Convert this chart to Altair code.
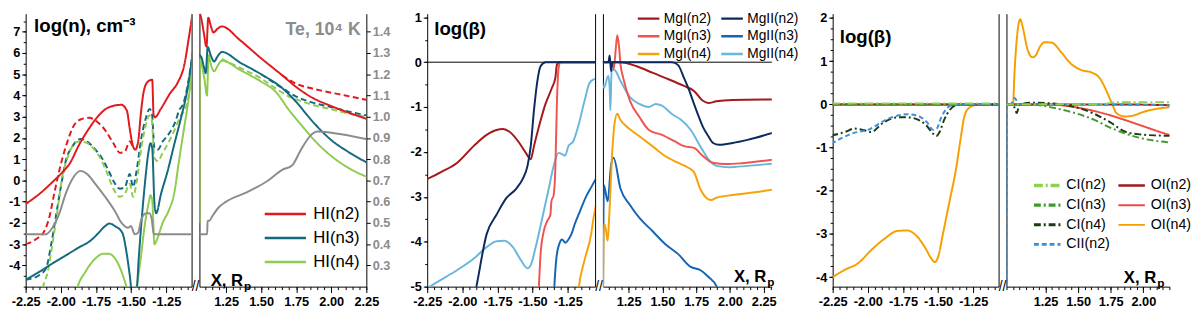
import altair as alt
import numpy as np
import pandas as pd

FONT = "Liberation Sans"
MINUS = "replace(datum.label, '\u2212', '-')"
H = 278

# ================= PANEL 1 : HI populations log(n) and Te =================
P1_SERIES = ["HI(n2)", "HI(n3)", "HI(n4)"]
P1_COLORS = ["#e2191c", "#136a7e", "#8dcc4e"]
TE_COLOR = "#8c8c8c"

h2_L_x = [-2.25, -2.15, -2.06, -1.99, -1.94, -1.87, -1.80, -1.73, -1.66, -1.57, -1.53, -1.51, -1.486, -1.47, -1.45, -1.43, -1.41, -1.38, -1.35, -1.34, -1.33, -1.29, -1.22, -1.17, -1.12, -1.09, -1.06]
h2_L_y = [-1.11, -0.62, -0.08, 0.38, 0.76, 1.68, 2.44, 3.06, 3.44, 3.56, 3.28, 2.44, 1.6, 1.45, 1.83, 3.2, 4.2, 4.66, 4.74, 3.06, 2.98, 3.36, 4.13, 4.59, 5.5, 6.7, 8.0]
h2d_L_x = [-2.25, -2.175, -2.117, -2.08, -2.047, -2.0, -1.953, -1.906, -1.86, -1.80, -1.74, -1.685, -1.626, -1.58, -1.544, -1.51, -1.486]
h2d_L_y = [-3.0, -2.76, -2.38, -1.69, -0.62, 0.76, 1.83, 2.6, 2.87, 2.95, 2.75, 2.37, 1.75, 1.3, 1.37, 1.83, 1.52]
h3_L_x = [-2.25, -2.152, -2.06, -1.965, -1.87, -1.79, -1.73, -1.685, -1.654, -1.615, -1.563, -1.533, -1.51, -1.493, -1.463, -1.446, -1.423, -1.40, -1.376, -1.362, -1.35, -1.334, -1.322, -1.287, -1.24, -1.194, -1.147, -1.10, -1.06]
h3_L_y = [-4.68, -4.3, -3.91, -3.53, -3.15, -2.84, -2.46, -2.15, -2.03, -2.15, -2.46, -3.38, -4.45, -5.3, -5.3, -3.68, -1.69, -0.01, 1.37, 1.75, 1.52, -1.08, -1.54, -0.62, 0.45, 1.68, 2.9, 4.28, 6.1]
h3d_L_x = [-2.25, -2.152, -2.105, -2.07, -2.035, -2.0, -1.965, -1.918, -1.86, -1.813, -1.754, -1.708, -1.66, -1.614, -1.58, -1.544, -1.51, -1.486, -1.463, -1.428, -1.393, -1.37, -1.353, -1.334, -1.31, -1.276, -1.23, -1.182, -1.16, -1.13, -1.10, -1.06]
h3d_L_y = [-4.68, -4.45, -4.14, -3.07, -1.69, -0.31, 0.91, 1.6, 1.95, 1.83, 1.45, 1.06, 0.45, -0.16, -0.39, -0.31, 0.3, -0.31, 0.38, 1.98, 2.98, 3.36, 3.21, 1.52, 1.45, 1.83, 2.21, 2.83, 3.28, 3.6, 4.4, 6.1]
h4_L_x = [-1.90, -1.883, -1.825, -1.755, -1.696, -1.66, -1.614, -1.568, -1.533, -1.52, -1.49, -1.463, -1.432, -1.404, -1.376, -1.362, -1.35, -1.334, -1.315, -1.276, -1.23, -1.194, -1.16, -1.124, -1.089, -1.06]
h4_L_y = [-5.5, -5.06, -4.3, -3.68, -3.45, -3.45, -3.68, -4.3, -5.06, -5.5, -5.5, -5.06, -3.68, -2.15, -1.08, -0.7, -0.93, -3.0, -2.76, -2.0, -1.38, -0.62, 0.91, 2.44, 3.97, 5.9]
h4d_L_x = [-2.14, -2.128, -2.093, -2.058, -2.023, -1.99, -1.953, -1.918, -1.871, -1.82, -1.766, -1.72, -1.673, -1.626, -1.58, -1.544, -1.51, -1.486, -1.463, -1.428, -1.393, -1.37, -1.353, -1.334, -1.31, -1.276, -1.23, -1.182, -1.147, -1.12, -1.09, -1.06]
h4d_L_y = [-5.5, -5.06, -4.3, -2.92, -1.38, 0.15, 1.06, 1.6, 1.83, 1.78, 1.49, 1.06, 0.38, -0.39, -0.77, -0.62, -0.16, -0.77, -0.16, 1.52, 2.67, 3.06, 2.83, 1.06, 0.91, 1.3, 1.83, 2.52, 3.06, 3.3, 4.0, 5.9]
te_L_x = [-2.25, -2.105, -2.06, -2.01, -1.965, -1.918, -1.86, -1.813, -1.755, -1.685, -1.614, -1.568, -1.521, -1.502, -1.474, -1.45, -1.428, -1.393, -1.37, -1.353, -1.339, -1.06]
te_L_y = [0.447, 0.447, 0.477, 0.546, 0.638, 0.707, 0.745, 0.73, 0.684, 0.623, 0.554, 0.5, 0.477, 0.485, 0.447, 0.454, 0.516, 0.546, 0.546, 0.516, 0.447, 0.447]

h2_R_x = [1.05, 1.062, 1.074, 1.09, 1.11, 1.123, 1.14, 1.16, 1.19, 1.22, 1.35, 1.5, 1.65, 1.75, 1.85, 2.0, 2.12, 2.26]
h2_R_y = [8.2, 7.9, 7.6, 7.0, 6.3, 7.66, 7.3, 6.97, 7.15, 7.25, 6.6, 5.75, 4.95, 4.4, 3.95, 3.5, 3.2, 2.88]
h2d_R_x = [1.65, 1.75, 1.85, 1.95, 2.1, 2.26]
h2d_R_y = [4.95, 4.55, 4.35, 4.2, 4.0, 3.78]
h3_R_x = [1.05, 1.062, 1.074, 1.09, 1.105, 1.119, 1.14, 1.165, 1.19, 1.22, 1.35, 1.5, 1.65, 1.75, 1.85, 2.0, 2.12, 2.26]
h3_R_y = [6.0, 5.9, 5.8, 5.4, 5.05, 6.28, 5.9, 5.6, 5.85, 6.05, 5.55, 5.0, 4.35, 3.7, 2.9, 1.9, 1.35, 0.82]
h3d_R_x = [1.5, 1.65, 1.75, 1.85, 2.0, 2.12, 2.26]
h3d_R_y = [5.0, 4.35, 3.95, 3.7, 3.45, 3.25, 3.05]
h4_R_x = [1.0605, 1.062, 1.074, 1.095, 1.114, 1.125, 1.14, 1.165, 1.19, 1.22, 1.35, 1.5, 1.6, 1.7, 1.8, 1.9, 2.0, 2.12, 2.26]
h4_R_y = [-2.0, 5.7, 5.5, 4.8, 4.0, 5.9, 5.5, 5.14, 5.4, 5.64, 5.2, 4.65, 4.2, 3.3, 2.5, 1.75, 1.15, 0.6, 0.15]
h4d_R_x = [1.22, 1.35, 1.5, 1.6, 1.7, 1.8, 1.9, 2.0, 2.12, 2.26]
h4d_R_y = [5.72, 5.3, 4.8, 4.35, 3.95, 3.7, 3.5, 3.35, 3.15, 2.98]
te_R_x = [1.05, 1.115, 1.118, 1.13, 1.15, 1.2, 1.25, 1.4, 1.55, 1.65, 1.72, 1.78, 1.85, 1.9, 2.0, 2.26]
te_R_y = [0.447, 0.447, 0.51, 0.51, 0.53, 0.575, 0.6, 0.645, 0.7, 0.75, 0.77, 0.84, 0.91, 0.93, 0.925, 0.893]

# ================= PANEL 2 : Mg departure coefficients log(beta) =================
P2_SERIES = ["MgI(n2)", "MgI(n3)", "MgI(n4)", "MgII(n2)", "MgII(n3)", "MgII(n4)"]
P2_COLORS = ["#a4191b", "#f05450", "#f6a20a", "#0c2a5e", "#1565b4", "#6ab7de"]

m2_L_x = [-2.26, -2.152, -2.036, -1.92, -1.827, -1.757, -1.71, -1.664, -1.594, -1.548, -1.513, -1.49, -1.455, -1.408, -1.362, -1.338, -1.327, -1.315, -1.05]
m2_L_y = [-2.62, -2.45, -2.24, -1.87, -1.62, -1.51, -1.49, -1.55, -1.8, -2.02, -2.16, -1.87, -1.44, -0.93, -0.57, -0.35, -0.06, 0.0, 0.0]
m2_R_x = [1.05, 1.19, 1.31, 1.43, 1.545, 1.66, 1.734, 1.8, 1.84, 1.9, 2.02, 2.32]
m2_R_y = [0, 0, -0.09, -0.24, -0.38, -0.53, -0.64, -0.86, -0.91, -0.87, -0.84, -0.83]
m3_L_x = [-1.46, -1.455, -1.443, -1.42, -1.396, -1.373, -1.366, -1.35, -1.338, -1.327, -1.315, -1.303, -1.05]
m3_L_y = [-5.3, -5.0, -4.27, -3.76, -3.54, -3.4, -3.1, -2.96, -2.38, -0.93, -0.13, 0, 0]
m3_R_x = [1.05, 1.13, 1.14, 1.155, 1.166, 1.178, 1.19, 1.21, 1.26, 1.33, 1.4, 1.497, 1.59, 1.66, 1.734, 1.8, 1.875, 1.97, 2.09, 2.32]
m3_R_y = [0, 0, -0.15, 0.3, 0.6, 0.38, -0.05, -0.35, -0.86, -1.22, -1.51, -1.62, -1.76, -1.87, -1.91, -2.09, -2.24, -2.27, -2.25, -2.17]
m4_L_x = [-1.18, -1.17, -1.13, -1.083, -1.066, -1.05]
m4_L_y = [-5.3, -5.0, -4.41, -3.83, -3.47, -3.2]
m4_R_x = [1.0605, 1.067, 1.08, 1.095, 1.107, 1.13, 1.143, 1.166, 1.19, 1.237, 1.33, 1.426, 1.52, 1.615, 1.685, 1.734, 1.78, 1.828, 1.86, 1.9, 2.02, 2.13, 2.32]
m4_R_y = [-5.3, -3.6, -3.7, -3.98, -3.4, -1.94, -1.44, -1.15, -1.29, -1.44, -1.65, -1.87, -2.09, -2.24, -2.34, -2.45, -2.82, -3.03, -3.07, -3.02, -2.96, -2.92, -2.84]
mm2_L_x = [-1.92, -1.9, -1.827, -1.757, -1.687, -1.617, -1.57, -1.536, -1.513, -1.49, -1.466, -1.443, -1.408, -1.05]
mm2_L_y = [-5.3, -5.0, -3.83, -3.4, -3.03, -2.82, -2.6, -2.31, -1.87, -1.07, -0.42, -0.09, 0.0, 0.0]
mm2_R_x = [1.05, 1.1, 1.11, 1.12, 1.13, 1.57, 1.615, 1.66, 1.7, 1.734, 1.77, 1.8, 1.84, 1.875, 1.92, 2.02, 2.13, 2.32]
mm2_R_y = [0, 0, 0.15, -0.2, 0, 0, -0.06, -0.35, -0.64, -0.93, -1.22, -1.44, -1.65, -1.8, -1.84, -1.8, -1.73, -1.57]
mm3_L_x = [-1.35, -1.345, -1.33, -1.31, -1.29, -1.268, -1.245, -1.22, -1.199, -1.16, -1.12, -1.085, -1.05]
mm3_L_y = [-5.3, -5.0, -4.35, -4.05, -3.95, -4.02, -3.95, -3.8, -3.6, -3.3, -3.0, -2.8, -2.6]
mm3_R_x = [1.0605, 1.067, 1.095, 1.12, 1.138, 1.19, 1.26, 1.33, 1.426, 1.52, 1.615, 1.71, 1.78, 1.84, 1.9, 1.93]
mm3_R_y = [-5.3, -2.74, -3.1, -2.3, -2.13, -2.82, -3.18, -3.47, -3.76, -4.05, -4.27, -4.56, -4.63, -4.78, -4.99, -5.3]
mm4_L_x = [-2.26, -2.152, -2.036, -1.92, -1.827, -1.757, -1.7, -1.64, -1.583, -1.536, -1.513, -1.478, -1.431, -1.385, -1.35, -1.315, -1.29, -1.268, -1.245, -1.21, -1.176, -1.13, -1.094, -1.05]
mm4_L_y = [-5.05, -4.85, -4.63, -4.38, -4.12, -3.99, -3.98, -4.12, -4.41, -4.59, -4.52, -4.12, -3.47, -2.82, -2.31, -2.02, -2.05, -2.08, -1.87, -1.76, -1.44, -0.86, -0.46, -0.36]
mm4_R_x = [1.05, 1.067, 1.1, 1.11, 1.115, 1.124, 1.143, 1.19, 1.26, 1.33, 1.4, 1.45, 1.497, 1.568, 1.64, 1.71, 1.78, 1.84, 1.9, 1.994, 2.13, 2.32]
mm4_R_y = [-0.4, -0.57, -0.3, -0.6, -1.07, -0.2, -0.17, -0.42, -0.78, -0.93, -1.0, -0.93, -0.97, -1.15, -1.29, -1.51, -1.87, -2.16, -2.31, -2.34, -2.31, -2.26]

# ================= PANEL 3 : C and O departure coefficients =================
P3_SERIES = ["CI(n2)", "CI(n3)", "CI(n4)", "CII(n2)", "OI(n2)", "OI(n3)", "OI(n4)"]
P3_COLORS = ["#8fd14f", "#3e9a2e", "#1d3b14", "#3b8fd6", "#9e1b1b", "#f24a46", "#f5a000"]
P3_DASH = [[9, 3, 2, 3], [7, 3, 2, 3], [7, 3, 2, 3], [5, 3], [1, 0], [1, 0], [1, 0]]
P3_WIDTH = [3.5, 1.8, 2, 2, 2, 2, 2]

o4_L_x = [-2.26, -2.164, -2.07, -1.978, -1.885, -1.79, -1.72, -1.652, -1.594, -1.548, -1.524, -1.5, -1.466, -1.42, -1.373, -1.338, -1.315, -1.28, -1.234, -1.19, -1.05]
o4_L_y = [-4.02, -3.83, -3.68, -3.38, -3.12, -2.93, -2.92, -3.05, -3.31, -3.57, -3.65, -3.53, -3.0, -2.26, -1.5, -0.75, -0.3, -0.08, -0.015, 0, 0]
o4_R_x = [0.94, 1.0, 1.012, 1.029, 1.044, 1.056, 1.074, 1.111, 1.148, 1.173, 1.21, 1.247, 1.297, 1.372, 1.445, 1.53, 1.603, 1.667, 1.719, 1.762, 1.793, 1.856, 1.92, 2.004, 2.109, 2.225]
o4_R_y = [0, 0, 0.75, 1.5, 1.88, 1.97, 1.8, 1.28, 1.09, 1.13, 1.35, 1.44, 1.43, 1.2, 0.94, 0.79, 0.74, 0.6, 0.3, 0.0, -0.2, -0.28, -0.26, -0.17, -0.1, -0.06]
o3_L_x = [-2.26, -1.05]
o3_L_y = [0.0, 0.0]
o3_R_x = [0.94, 1.266, 1.372, 1.498, 1.619, 1.744, 1.867, 1.994, 2.109, 2.225]
o3_R_y = [0, 0, -0.02, -0.075, -0.15, -0.25, -0.37, -0.5, -0.62, -0.73]
o2_L_x = [-2.26, -1.05]
o2_L_y = [0.0, 0.0]
o2_R_x = [0.94, 1.793, 2.225]
o2_R_y = [0.0, 0.0, -0.02]
c2_L_x = [-2.26, -1.05]
c2_L_y = [0.02, 0.02]
c2_R_x = [0.94, 1.688, 1.793, 2.225]
c2_R_y = [0.0, 0.01, 0.05, 0.05]
c3_L_x = [-2.26, -1.05]
c3_L_y = [0.0, 0.0]
c3_R_x = [0.94, 1.055, 1.161, 1.245, 1.372, 1.498, 1.625, 1.74, 1.867, 1.994, 2.109, 2.225]
c3_R_y = [0, 0, -0.01, -0.04, -0.12, -0.22, -0.36, -0.53, -0.68, -0.79, -0.85, -0.89]
c4_L_x = [-2.26, -2.164, -2.094, -2.024, -1.978, -1.885, -1.79, -1.72, -1.652, -1.583, -1.536, -1.513, -1.49, -1.455, -1.42, -1.373, -1.327, -1.05]
c4_L_y = [-0.72, -0.64, -0.56, -0.6, -0.64, -0.41, -0.3, -0.3, -0.34, -0.49, -0.68, -0.73, -0.64, -0.34, -0.14, -0.02, 0, 0]
c4_R_x = [0.94, 0.992, 1.013, 1.029, 1.045, 1.055, 1.161, 1.266, 1.372, 1.498, 1.625, 1.744, 1.867, 1.994, 2.109, 2.225]
c4_R_y = [0, 0, -0.08, -0.2, -0.05, 0, 0.04, 0.03, 0.0, -0.08, -0.22, -0.41, -0.64, -0.7, -0.72, -0.73]
cii_L_x = [-2.26, -2.117, -1.978, -1.885, -1.79, -1.72, -1.65, -1.58, -1.536, -1.51, -1.478, -1.443, -1.4, -1.3, -1.05]
cii_L_y = [-0.91, -0.68, -0.56, -0.38, -0.26, -0.23, -0.26, -0.41, -0.59, -0.56, -0.3, -0.11, -0.015, 0, 0]
cii_R_x = [0.952, 0.955, 0.982, 1.003, 1.013, 1.045, 1.161, 2.225]
cii_R_y = [-4.5, 0.0, 0.0, 0.1, 0.15, 0, 0, -0.02]

# ---- axis domains / ticks ----
P1_XL, P1_XR, P1_Y, TE_DOM = [-2.25, -1.07], [1.06, 2.25], [-5, 7.85], [0.2, 1.485]
P2_XL, P2_XR, P2_Y = [-2.25, -1.055], [1.06, 2.31], [-5, 1.08]
P3_XL, P3_XR, P3_Y = [-2.25, -1.07], [0.95, 2.2], [-4.22, 2.1]
XL_MAJ = [-2.25, -2.0, -1.75, -1.5, -1.25]
XR_MAJ = [1.25, 1.5, 1.75, 2.0, 2.25]
XR3_MAJ = [1.25, 1.5, 1.75, 2.0]
TE_TICKS = [0.3, 0.4, 0.5, 0.6, 0.7, 0.8, 0.9, 1.0, 1.1, 1.2, 1.3, 1.4]


def minor_vals(dom, step):
    a = np.ceil(dom[0] / step - 1e-9) * step
    return [float(round(v, 3)) for v in np.arange(a, dom[1] + 1e-9, step)]


def make_df(items):
    rows = []
    for name, style, xs, ys in items:
        assert len(xs) == len(ys), name
        for i, (x, y) in enumerate(zip(xs, ys)):
            rows.append(dict(x=x, y=y, series=name, style=style, key=name + "|" + style, i=i))
    return pd.DataFrame(rows)


def sc(dom):
    return alt.Scale(domain=list(dom), nice=False, zero=False)


def ax_xmaj(vals):
    return alt.Axis(orient="bottom", values=vals, format=".2f", labelExpr=MINUS, tickSize=6,
                    labelPadding=3, title=None, labelFlush=False, labelOverlap=False, grid=False)


def ax_xmin(vals):
    return alt.Axis(orient="bottom", values=vals, labels=False, tickSize=3, domain=False,
                    title=None, grid=False)


def ax_ymaj(vals):
    return alt.Axis(orient="left", values=vals, format="d", labelExpr=MINUS, tickSize=4,
                    labelPadding=2, title=None, grid=False, labelOverlap=False)


def ax_ymin(vals):
    return alt.Axis(orient="left", values=vals, labels=False, tickSize=2.5, domain=False,
                    title=None, grid=False)


def ax_edge(orient):
    return alt.Axis(orient=orient, labels=False, ticks=False, domain=True, title=None, grid=False)


def lines(df, xdom, ydom, xaxis, yaxis, color, dash=None, width=None):
    enc = dict(x=alt.X("x:Q", scale=sc(xdom), axis=xaxis),
               y=alt.Y("y:Q", scale=sc(ydom), axis=yaxis),
               color=color, detail="key:N", order="i:Q")
    if dash is not None:
        enc["strokeDash"] = dash
    if width is not None:
        enc["strokeWidth"] = width
    return alt.Chart(df).mark_line(clip=True, interpolate="monotone", strokeWidth=2).encode(**enc)


def frame(xdom, ydom, xaxis, yaxis):
    df = pd.DataFrame({"x": list(xdom), "y": list(ydom)})
    return alt.Chart(df).mark_point(opacity=0, size=1).encode(
        x=alt.X("x:Q", scale=sc(xdom), axis=xaxis), y=alt.Y("y:Q", scale=sc(ydom), axis=yaxis))


def label(x, y, text, xdom, ydom, size, weight="bold", color="black", align="left", dx=0, dy=0):
    df = pd.DataFrame({"x": [x], "y": [y], "t": [text]})
    return alt.Chart(df).mark_text(font=FONT, fontSize=size, fontWeight=weight, color=color,
                                   align=align, baseline="middle", dx=dx, dy=dy).encode(
        x=alt.X("x:Q", scale=sc(xdom), axis=None), y=alt.Y("y:Q", scale=sc(ydom), axis=None), text="t:N")


def xr_label(x, y, xdom, ydom):
    return [label(x, y, "X, R", xdom, ydom, 17),
            label(x, y, "p", xdom, ydom, 12, dx=34, dy=5)]


def break_mark(xdom, ydom):
    return label(xdom[0], ydom[0], "//", xdom, ydom, 14, weight="normal", align="center", dx=-4)


def zero_rule(ydom):
    return alt.Chart(pd.DataFrame({"z": [0]})).mark_rule(color="black", strokeWidth=1).encode(
        y=alt.Y("z:Q", scale=sc(ydom), axis=None))


def te_line(xs, ys, xdom, yaxis):
    df = make_df([("Te", "solid", xs, ys)])
    return alt.Chart(df).mark_line(color=TE_COLOR, strokeWidth=2, clip=True, interpolate="monotone").encode(
        x=alt.X("x:Q", scale=sc(xdom), axis=None), y=alt.Y("y:Q", scale=sc(TE_DOM), axis=yaxis), order="i:Q")


def spacer(w):
    df = pd.DataFrame({"x": [0], "y": [0]})
    return alt.Chart(df).mark_point(opacity=0, size=1).encode(
        x=alt.X("x:Q", axis=None), y=alt.Y("y:Q", axis=None)).properties(width=w, height=H)


# ---------------- panel 1 ----------------
p1L_df = make_df([("HI(n2)", "dash", h2d_L_x, h2d_L_y), ("HI(n3)", "dash", h3d_L_x, h3d_L_y),
                  ("HI(n4)", "dash", h4d_L_x, h4d_L_y), ("HI(n4)", "solid", h4_L_x, h4_L_y),
                  ("HI(n3)", "solid", h3_L_x, h3_L_y), ("HI(n2)", "solid", h2_L_x, h2_L_y)])
p1R_df = make_df([("HI(n2)", "dash", h2d_R_x, h2d_R_y), ("HI(n3)", "dash", h3d_R_x, h3d_R_y),
                  ("HI(n4)", "dash", h4d_R_x, h4d_R_y), ("HI(n4)", "solid", h4_R_x, h4_R_y),
                  ("HI(n3)", "solid", h3_R_x, h3_R_y), ("HI(n2)", "solid", h2_R_x, h2_R_y)])
leg1 = alt.Legend(orient="none", legendX=65, legendY=193, title=None, symbolType="stroke",
                  symbolSize=1764, symbolStrokeWidth=2.5, labelFont=FONT, labelFontSize=17,
                  labelOffset=6, clipHeight=22, rowPadding=2.5, padding=0)
scale1 = alt.Scale(domain=P1_SERIES, range=P1_COLORS)
dash1 = alt.StrokeDash("style:N", scale=alt.Scale(domain=["solid", "dash"], range=[[1, 0], [6, 3.5]]), legend=None)

p1_left = alt.layer(
    lines(p1L_df, P1_XL, P1_Y, ax_xmaj(XL_MAJ), ax_ymaj(list(range(-4, 8))),
          alt.Color("series:N", scale=scale1, legend=None), dash1),
    te_line(te_L_x, te_L_y, P1_XL, ax_edge("right")),
    frame(P1_XL, P1_Y, ax_xmin(minor_vals(P1_XL, 0.05)), ax_ymin(minor_vals(P1_Y, 0.5))),
    label(-2.19, 7.25, "log(n), cm\u207b\u00b3", P1_XL, P1_Y, 19),
).resolve_scale(y="independent").resolve_axis(x="independent", y="independent").properties(width=169, height=H)

p1_right = alt.layer(
    lines(p1R_df, P1_XR, P1_Y, ax_xmaj(XR_MAJ), ax_edge("left"),
          alt.Color("series:N", scale=scale1, legend=leg1), dash1),
    te_line(te_R_x, te_R_y, P1_XR, alt.Axis(orient="right", values=TE_TICKS, format=".1f", labelColor=TE_COLOR,
                                            tickSize=4, labelPadding=2, title=None, grid=False)),
    frame(P1_XR, P1_Y, ax_xmin(minor_vals(P1_XR, 0.05)), None),
    label(2.21, 7.1, "Te, 10\u2074 K", P1_XR, P1_Y, 18, color=TE_COLOR, align="right"),
    *xr_label(1.14, -4.72, P1_XR, P1_Y),
    break_mark(P1_XR, P1_Y),
).resolve_scale(y="independent").resolve_axis(x="independent", y="independent").properties(width=170, height=H)

# ---------------- panel 2 ----------------
p2L_df = make_df([("MgII(n4)", "solid", mm4_L_x, mm4_L_y), ("MgII(n3)", "solid", mm3_L_x, mm3_L_y),
                  ("MgI(n4)", "solid", m4_L_x, m4_L_y), ("MgI(n3)", "solid", m3_L_x, m3_L_y),
                  ("MgI(n2)", "solid", m2_L_x, m2_L_y), ("MgII(n2)", "solid", mm2_L_x, mm2_L_y)])
p2R_df = make_df([("MgII(n4)", "solid", mm4_R_x, mm4_R_y), ("MgII(n3)", "solid", mm3_R_x, mm3_R_y),
                  ("MgI(n4)", "solid", m4_R_x, m4_R_y), ("MgI(n3)", "solid", m3_R_x, m3_R_y),
                  ("MgI(n2)", "solid", m2_R_x, m2_R_y), ("MgII(n2)", "solid", mm2_R_x, mm2_R_y)])
leg2 = alt.Legend(orient="none", legendX=34, legendY=-3, title=None, symbolType="stroke", columns=2,
                  symbolSize=484, symbolStrokeWidth=2.5, labelFont=FONT, labelFontSize=14,
                  labelOffset=3, clipHeight=16, rowPadding=2, columnPadding=8, padding=0)
scale2 = alt.Scale(domain=P2_SERIES, range=P2_COLORS)

p2_left = alt.layer(
    zero_rule(P2_Y),
    lines(p2L_df, P2_XL, P2_Y, ax_xmaj(XL_MAJ), ax_ymaj(list(range(-5, 2))),
          alt.Color("series:N", scale=scale2, legend=None)),
    frame(P2_XL, P2_Y, ax_xmin(minor_vals(P2_XL, 0.05)), ax_ymin(minor_vals(P2_Y, 0.5))),
    frame(P2_XL, P2_Y, None, ax_edge("right")),
    label(-2.2, 0.74, "log(\u03b2)", P2_XL, P2_Y, 19),
).resolve_axis(x="independent", y="independent").properties(width=171, height=H)

p2_right = alt.layer(
    zero_rule(P2_Y),
    lines(p2R_df, P2_XR, P2_Y, ax_xmaj(XR_MAJ), ax_edge("left"),
          alt.Color("series:N", scale=scale2, legend=leg2)),
    frame(P2_XR, P2_Y, ax_xmin(minor_vals(P2_XR, 0.05)), None),
    *xr_label(2.03, -4.78, P2_XR, P2_Y),
    break_mark(P2_XR, P2_Y),
).resolve_axis(x="independent", y="independent").properties(width=172, height=H)

# ---------------- panel 3 ----------------
p3L_df = make_df([("OI(n4)", "s", o4_L_x, o4_L_y), ("OI(n3)", "s", o3_L_x, o3_L_y), ("OI(n2)", "s", o2_L_x, o2_L_y),
                  ("CI(n4)", "s", c4_L_x, c4_L_y), ("CI(n3)", "s", c3_L_x, c3_L_y), ("CII(n2)", "s", cii_L_x, cii_L_y),
                  ("CI(n2)", "s", c2_L_x, c2_L_y)])
p3R_df = make_df([("OI(n4)", "s", o4_R_x, o4_R_y), ("OI(n3)", "s", o3_R_x, o3_R_y), ("OI(n2)", "s", o2_R_x, o2_R_y),
                  ("CI(n4)", "s", c4_R_x, c4_R_y), ("CI(n3)", "s", c3_R_x, c3_R_y), ("CII(n2)", "s", cii_R_x, cii_R_y),
                  ("CI(n2)", "s", c2_R_x, c2_R_y)])
leg3 = alt.Legend(orient="none", legendX=26, legendY=166, title=None, symbolType="stroke", columns=2,
                  symbolSize=729, labelFont=FONT, labelFontSize=14.5,
                  labelOffset=4, clipHeight=18, rowPadding=2, columnPadding=6, padding=0)
scale3c = alt.Scale(domain=P3_SERIES, range=P3_COLORS)
scale3d = alt.Scale(domain=P3_SERIES, range=P3_DASH)
scale3w = alt.Scale(domain=P3_SERIES, range=P3_WIDTH)

p3_left = alt.layer(
    lines(p3L_df, P3_XL, P3_Y, ax_xmaj(XL_MAJ), ax_ymaj(list(range(-4, 3))),
          alt.Color("series:N", scale=scale3c, legend=None),
          alt.StrokeDash("series:N", scale=scale3d, legend=None),
          alt.StrokeWidth("series:N", scale=scale3w, legend=None)),
    frame(P3_XL, P3_Y, ax_xmin(minor_vals(P3_XL, 0.05)), ax_ymin(minor_vals(P3_Y, 0.25))),
    frame(P3_XL, P3_Y, None, ax_edge("right")),
    label(-2.2, 1.55, "log(\u03b2)", P3_XL, P3_Y, 19),
).resolve_axis(x="independent", y="independent").properties(width=169, height=H)

p3_right = alt.layer(
    lines(p3R_df, P3_XR, P3_Y, ax_xmaj(XR3_MAJ), ax_edge("left"),
          alt.Color("series:N", scale=scale3c, legend=leg3),
          alt.StrokeDash("series:N", scale=scale3d, legend=leg3),
          alt.StrokeWidth("series:N", scale=scale3w, legend=leg3)),
    frame(P3_XR, P3_Y, ax_xmin(minor_vals(P3_XR, 0.05)), None),
    *xr_label(1.85, -4.02, P3_XR, P3_Y),
    break_mark(P3_XR, P3_Y),
).resolve_axis(x="independent", y="independent").properties(width=166, height=H)

chart = alt.hconcat(
    p1_left, p1_right, spacer(46), p2_left, p2_right, spacer(46), p3_left, p3_right,
    spacing=8, bounds="flush"
).resolve_scale(
    color="independent", strokeDash="independent", strokeWidth="independent"
).properties(
    padding={"left": 0, "top": 0, "right": 0, "bottom": 0}
).configure_view(stroke=None).configure_axis(
    labelFont=FONT, labelFontWeight="bold", labelFontSize=13, labelColor="black",
    domainColor="black", tickColor="black", domainWidth=1, tickWidth=1
)

chart.save("out.html", embed_options={"renderer": "svg", "actions": False})
